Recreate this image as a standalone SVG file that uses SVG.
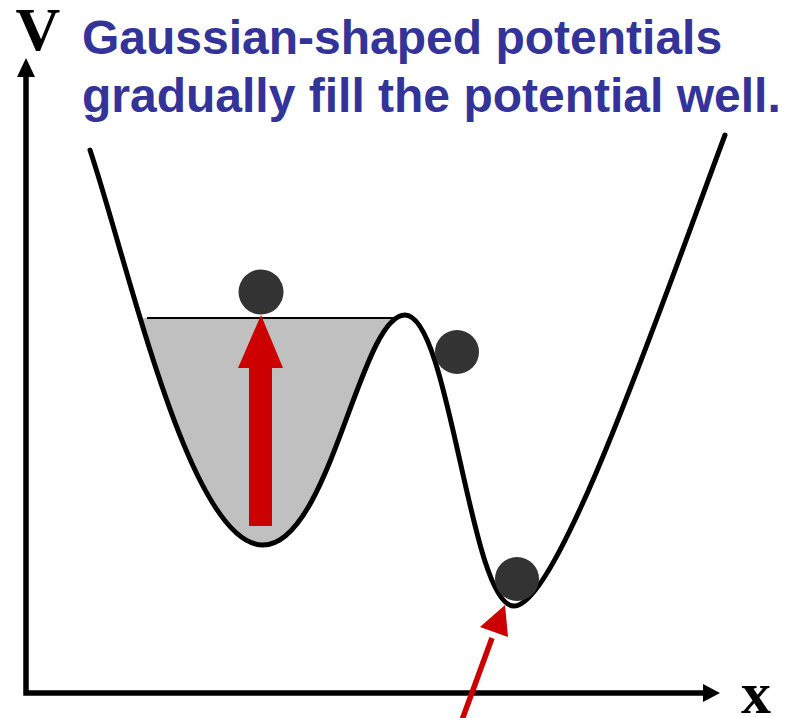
<svg xmlns="http://www.w3.org/2000/svg" width="796" height="718" viewBox="0 0 796 718">
<style>
.title{font-family:"Liberation Sans",Arial,sans-serif;font-weight:bold;font-size:48px;fill:#333399}
.axlbl{font-family:"Liberation Serif","Times New Roman",serif;font-weight:bold;fill:#000}
.curve{fill:none;stroke:#000;stroke-width:5;stroke-linecap:round;stroke-linejoin:round}
.ball{fill:#333333}
.red{fill:#cc0000}
</style>
<defs>
<clipPath id="fillclip"><rect x="0" y="318" width="796" height="400"/></clipPath>
</defs>
<rect width="796" height="718" fill="#ffffff"/>
<g id="title">
<text class="title" x="82" y="54">Gaussian-shaped potentials</text>
<text class="title" x="82" y="112">gradually fill the potential well.</text>
</g>
<g id="axes">
<path d="M26,76 L26,693 L705,693" fill="none" stroke="#000" stroke-width="5.5" stroke-linejoin="miter"/>
<polygon points="26,58 17,77 35,77" fill="#000"/>
<polygon points="720,693 703,684 703,702" fill="#000"/>
<text class="axlbl" x="38" y="50" font-size="62" text-anchor="middle">V</text>
<text class="axlbl" x="741" y="713" font-size="60">x</text>
</g>
<g id="filled-well">
<path d="M90,150 C130,270 190,545 263,545 C330,545 360,315 405,315 Z" fill="#c0c0c0" clip-path="url(#fillclip)"/>
<line x1="147" y1="318" x2="395" y2="318" stroke="#000" stroke-width="1.8"/>
</g>
<g id="potential">
<path class="curve" d="M90,150 C130,270 190,545 263,545 C330,545 360,315 405,315 C450,315 470,606 514,606 C558,606 661,306 725,135"/>
</g>
<g id="balls">
<circle id="ball1" class="ball" cx="261" cy="292" r="22.5"/>
<circle id="ball2" class="ball" cx="457" cy="352" r="22"/>
<circle id="ball3" class="ball" cx="517" cy="579" r="22"/>
</g>
<g id="connectors">
<polygon id="fill-arrow" class="red" points="249,526 272,526 272,368 283,368 261,315 238,368 249,368"/>
<g id="pointer-arrow">
<line x1="462" y1="720" x2="492" y2="638" stroke="#cc0000" stroke-width="5.5"/>
<polygon class="red" points="505,605 480,627 508,637"/>
</g>
</g>
</svg>
